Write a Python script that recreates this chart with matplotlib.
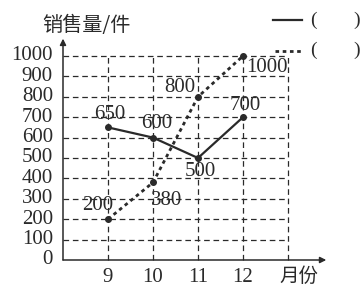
import matplotlib
matplotlib.use("Agg")
import matplotlib.pyplot as plt

months = [9, 10, 11, 12]
month_labels = ["9", "10", "11", "12"]
series_solid = [650, 600, 500, 700]
series_dashed = [200, 380, 800, 1000]
y_ticks = [0, 100, 200, 300, 400, 500, 600, 700, 800, 900, 1000]

ink = "#2a2a2a"
serif = ["Liberation Serif", "DejaVu Serif"]
cjk = ["Noto Sans CJK SC", "DejaVu Sans"]
num_fs = 15

W, H = 362, 286
fig = plt.figure(figsize=(W / 100, H / 100), dpi=100)
ax = fig.add_axes([0, 0, 1, 1])
ax.axis("off")

# pixel mapping: x=8 -> 63px, 45px per month; y=0 -> 260px from top, 1000 -> 56px
px_x = 45.0
x0 = 8 - 63 / px_x
ax.set_xlim(x0, x0 + W / px_x)
py = (260 - 56) / 1000.0
ax.set_ylim(-(H - 260) / py, 260 / py)

x_origin, x_end = 8, 13

def px2data(px, pyy):
    return x0 + px / px_x, (260 - pyy) / py

# grid
for yv in y_ticks[1:]:
    ax.plot([x_origin, x_end], [yv, yv], color=ink, lw=0.9, ls=(0, (4.5, 3)), zorder=1)
for xv in months + [13]:
    ax.plot([xv, xv], [0, 1000], color=ink, lw=0.9, ls=(0, (4.5, 3)), zorder=1)

# axes with arrows
ax.annotate("", xy=(13.85, 0), xytext=(x_origin, 0),
            arrowprops=dict(arrowstyle="-|>", color=ink, lw=1.1, mutation_scale=9,
                            shrinkA=0, shrinkB=0))
ax.annotate("", xy=(x_origin, 1085), xytext=(x_origin, 0),
            arrowprops=dict(arrowstyle="-|>", color=ink, lw=1.1, mutation_scale=9,
                            shrinkA=0, shrinkB=0))

# y tick labels
for yv in y_ticks:
    ax.text(x_origin - 10 / px_x, yv, str(yv), ha="right", va="center",
            fontsize=num_fs, family=serif, color=ink)
# x tick labels
for xv, lab in zip(months, month_labels):
    ax.text(xv, -17 / py, lab, ha="center", va="center",
            fontsize=num_fs, family=serif, color=ink)
p = px2data(299, 276)
ax.text(p[0], p[1], "月份", ha="center", va="center", fontsize=14, family=cjk, color=ink)
p = px2data(42, 26)
ax.text(p[0], p[1], "销售量/件", ha="left", va="center", fontsize=14.5, family=cjk, color=ink)

# series
ax.plot(months, series_solid, color=ink, lw=1.6, marker="o", ms=4, zorder=3)
ax.plot(months, series_dashed, color=ink, lw=2.0, ls=(0, (1.3, 1.3)), marker="o", ms=4, zorder=3)

# data labels (offsets in pixels)
def lab(x, y, text, dx, dy):
    ax.annotate(text, (x, y), xytext=(dx * 0.72, dy * 0.72), textcoords="offset points",
                ha="center", va="center", fontsize=num_fs, family=serif, color=ink, zorder=4)

solid_off = [(2, 13), (4, 14), (2, -14), (2, 12)]
dashed_off = [(-10, 14), (14, -18), (-18, 9), (24, -12)]
for xv, yv, o in zip(months, series_solid, solid_off):
    lab(xv, yv, str(yv), *o)
for xv, yv, o in zip(months, series_dashed, dashed_off):
    lab(xv, yv, str(yv), *o)

# legend (top right)
a = px2data(273, 20); b = px2data(302, 20)
ax.plot([a[0], b[0]], [a[1], b[1]], color=ink, lw=1.6, clip_on=False)
a = px2data(275, 51); b = px2data(302, 51)
ax.plot([a[0], b[0]], [a[1], b[1]], color=ink, lw=2.0, ls=(0, (1.3, 1.3)), clip_on=False)
for yy in (20, 50):
    p = px2data(313, yy)
    ax.text(p[0], p[1], "(", ha="center", va="center", fontsize=14, family=serif, color=ink)
    p = px2data(357, yy)
    ax.text(p[0], p[1], ")", ha="center", va="center", fontsize=14, family=serif, color=ink)

fig.savefig("out.png", dpi=100, facecolor="white")
